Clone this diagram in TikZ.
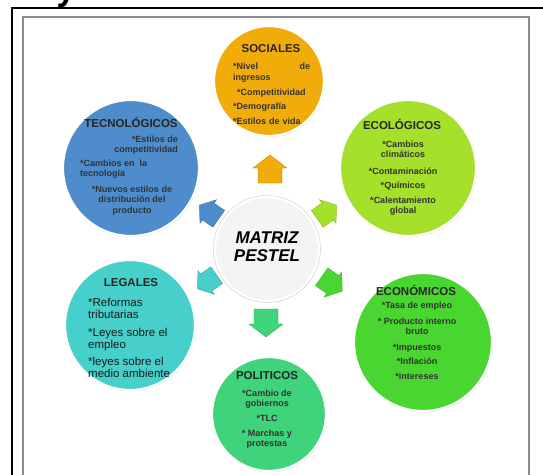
\documentclass[tikz,border=0pt]{standalone}
\usepackage{fontspec}
\setmainfont{Liberation Sans}
\usetikzlibrary{shadows}
\definecolor{cSoc}{HTML}{F2AC0A}
\definecolor{cEco}{HTML}{A5E02A}
\definecolor{cEcon}{HTML}{4AD631}
\definecolor{cPol}{HTML}{3FD37C}
\definecolor{cLeg}{HTML}{47D0CB}
\definecolor{cTec}{HTML}{4E8CCB}
\definecolor{cMat}{HTML}{F4F4F4}
\begin{document}
\begin{tikzpicture}[x=1pt,y=-1pt,
  bub/.style={circle, draw=white, line width=2.2pt, inner sep=0,
    drop shadow={opacity=0.3, shadow xshift=0.8pt, shadow yshift=-1.2pt}},
  ttl/.style={font=\fontsize{11.5}{12}\selectfont\bfseries, text=black!85, inner sep=0},
  bdy/.style={font=\fontsize{9}{10.5}\selectfont\bfseries, text=black!80, inner sep=0},
  blk/.pic={\path[pic actions] (-14,-12) -- (1,-12) -- (1,-17) -- (14,0) -- (1,17) -- (1,12) -- (-14,12) -- cycle;},
]
\useasboundingbox (0,0) rectangle (543,474);
\fill[white] (0,0) rectangle (543,474);
% frame
\draw[line width=1.2pt, black] (550,8) -- (12,8) -- (12,480);
\draw[line width=1.6pt, black!45] (23,480) -- (23,17) -- (529,17) -- (529,480);
\node[font=\fontsize{34}{34}\selectfont\bfseries, anchor=base, inner sep=0] (ytop) at (66,0) {y};
% circles
\node[bub, fill=cSoc, minimum size=110pt] (soc) at (269,81) {};
\node[bub, fill=cEco, minimum size=136pt] (eco) at (408,168) {};
\node[bub, fill=cTec, minimum size=136pt] (tec) at (131,168) {};
\node[bub, fill=cMat, draw=white, minimum size=104pt] (mat) at (267,249) {};
\draw[black!15, line width=0.6pt] (mat) circle (53.5pt);
\node[bub, fill=cLeg, minimum size=130pt] (leg) at (130,325) {};
\node[bub, fill=cEcon, minimum size=138pt] (econ) at (423,342) {};
\node[bub, fill=cPol, minimum size=114pt] (pol) at (269,414) {};
% block arrows
\pic[fill=cSoc, draw=cSoc!75!black, line width=0.3pt, rotate=90] (aup) at (270,169) {blk};
\pic[fill=cEco, draw=cEco!75!black, line width=0.3pt, rotate=35, scale=0.85] (ane) at (327,212) {blk};
\pic[fill=cTec, draw=cTec!75!black, line width=0.3pt, rotate=145, scale=0.85] (anw) at (209,212) {blk};
\pic[fill=cEcon, draw=cEcon!75!black, line width=0.3pt, rotate=-35, scale=0.9] (ase) at (332,284) {blk};
\pic[fill=cLeg, draw=cLeg!75!black, line width=0.3pt, rotate=-145, scale=0.85] (asw) at (207,282) {blk};
\pic[fill=cPol, draw=cPol!75!black, line width=0.3pt, rotate=-90] (adn) at (266,323) {blk};
% center text
\node[font=\fontsize{17}{18}\selectfont\bfseries\itshape, align=center, inner sep=0] (matt) at (267,247) {MATRIZ\\PESTEL};
% SOCIALES
\node[ttl] (soct) at (271,49) {SOCIALES};
\node[bdy, anchor=north west, text width=77pt, align=left, font=\fontsize{9}{11}\selectfont\bfseries] (socb) at (233,62.7)
  {*Nivel\hfill de\\ingresos\\[4pt]\hspace*{4pt}*Competitividad\\[3.5pt]*Demografía\\[4pt]*Estilos de vida};
% TECNOLOGICOS
\node[ttl] (tect) at (131,122) {TECNOLÓGICOS};
\node[bdy, anchor=north east, align=right] (tecb1) at (178,135.7) {*Estilos de\\competitividad};
\node[bdy, anchor=north west, align=left] (tecb2) at (80,159.7) {*Cambios en\ \ la\\tecnología};
\node[bdy, anchor=north, align=center] (tecb3) at (132,185.7) {*Nuevos estilos de\\distribución del\\producto};
% ECOLOGICOS
\node[ttl] (ecot) at (402,124) {ECOLÓGICOS};
\node[bdy, anchor=north, align=center, font=\fontsize{9}{10}\selectfont\bfseries] (ecob) at (403,140.7)
  {*Cambios\\climáticos\\[7pt]*Contaminación\\[4pt]*Químicos\\[5pt]*Calentamiento\\global};
% ECONOMICOS
\node[ttl] (econt) at (416,290) {ECONÓMICOS};
\node[bdy, anchor=north, align=center, font=\fontsize{9}{10}\selectfont\bfseries] (econb) at (417,301.7)
  {*Tasa de empleo\\[6.5pt]* Producto interno\\bruto\\[6pt]*Impuestos\\[4pt]*Inflación\\[5pt]*intereses};
% POLITICOS
\node[ttl] (polt) at (267,376) {POLITICOS};
\node[bdy, anchor=north, align=center, font=\fontsize{9}{10}\selectfont\bfseries] (polb) at (267,390.2)
  {*Cambio de\\gobiernos\\[5pt]*TLC\\[5pt]* Marchas y\\protestas};
% LEGALES
\node[ttl] (legt) at (131,283) {LEGALES};
\node[anchor=north west, align=left, inner sep=0, text=black!90, font=\fontsize{11.5}{11.7}\selectfont] (legb) at (88,297.8)
  {*Reformas\\tributarias\\[6.6pt]*Leyes sobre el\\empleo\\[6.1pt]*leyes sobre el\\medio ambiente};
\end{tikzpicture}
\end{document}
